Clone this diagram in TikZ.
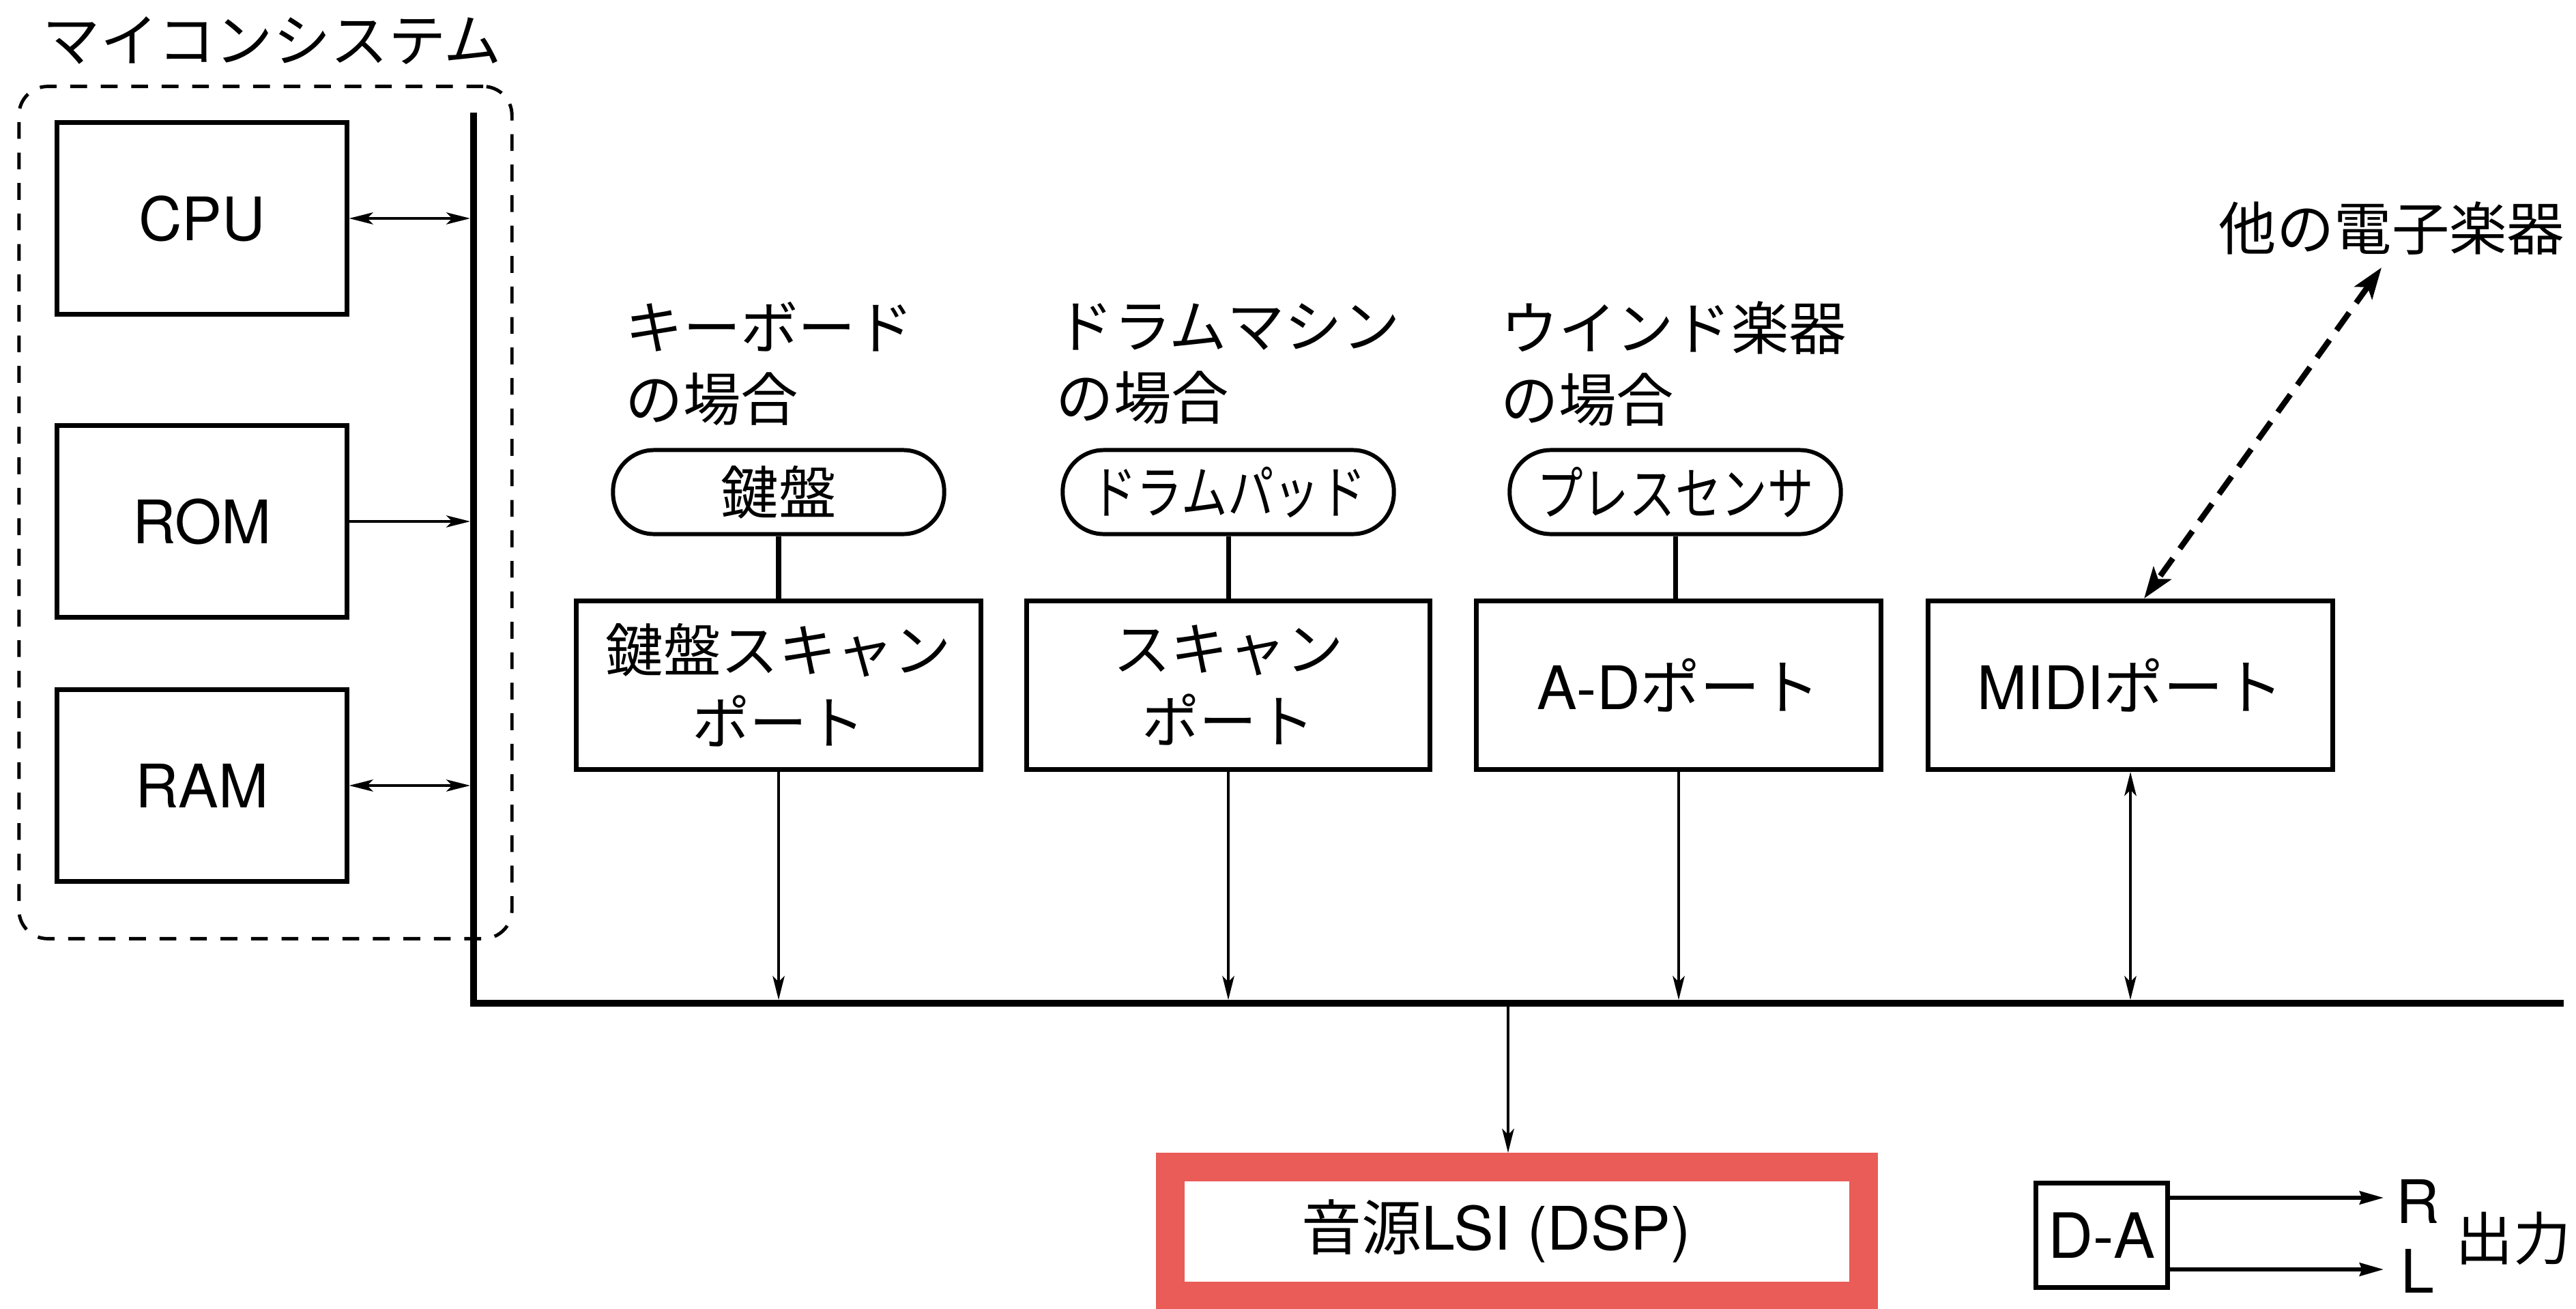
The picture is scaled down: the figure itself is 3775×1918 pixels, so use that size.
\documentclass[tikz,border=0pt]{standalone}
\usepackage{fontspec}
\setmainfont{TeX Gyre Heros}
\newfontfamily\jp{Noto Sans CJK JP}
\newfontfamily\jpn[FakeStretch=0.8]{Noto Sans CJK JP}
\usetikzlibrary{arrows.meta}
\definecolor{lsired}{RGB}{233,92,87}
\newcommand\jtext{\jp\fontsize{24}{30}\selectfont}
\newcommand\ltext{\fontsize{25}{30}\selectfont}
\begin{document}
\begin{tikzpicture}[x=0.01cm,y=-0.01cm,
  membox/.style={draw,line width=2pt,minimum width=4.24cm,minimum height=2.8cm,inner sep=0pt,font=\ltext},
  portbox/.style={draw,line width=2pt,minimum width=5.93cm,minimum height=2.47cm,inner sep=0pt,align=center,font=\jtext},
  pill/.style={draw,line width=1.7pt,rounded corners=0.6cm,minimum width=4.85cm,minimum height=1.23cm,inner sep=0pt,font=\jtext},
  lbl/.style={inner sep=0pt,align=left,anchor=west,font=\jtext},
  arr/.style={-{Stealth[length=10pt,width=5pt,inset=2.5pt]},line width=0.9pt},
  darr/.style={{Stealth[length=10pt,width=5pt,inset=2.5pt]}-{Stealth[length=10pt,width=5pt,inset=2.5pt]},line width=0.9pt},
  outarr/.style={-{Stealth[length=10pt,width=5.5pt,inset=1pt]},line width=1.5pt},
  dasharr/.style={{Stealth[length=13pt,width=9pt,inset=3pt]}-{Stealth[length=13pt,width=9pt,inset=3pt]},line width=2.4pt,dash pattern=on 9pt off 5pt},
  bus/.style={line width=3pt},
  grp/.style={draw,line width=1.4pt,dash pattern=on 7pt off 5.7pt,rounded corners=0.42cm,minimum width=7.22cm,minimum height=12.48cm,inner sep=0pt}]
\fill[white] (0,0) rectangle (3775,1918);
\useasboundingbox (0,0) rectangle (3775,1918);

% microcomputer system
\node[grp] (sys) at (389,751) {};
\node[inner sep=0pt,font=\jtext] (systitle) at (399,59) {マイコンシステム};
\node[membox] (cpu) at (296,320) {CPU};
\node[membox] (rom) at (296,764) {ROM};
\node[membox] (ram) at (296,1151) {RAM};

% bus
\coordinate (vtop) at (694,165);
\coordinate (corner) at (694,1470);
\coordinate (hend) at (3757,1470);
\draw[bus] (vtop) -- (corner) -- (hend);
\coordinate (busN) at (0,1465);
\coordinate (busW) at (689,0);

\draw[darr] (cpu.east) -- (cpu.east -| busW);
\draw[arr] (rom.east) -- (rom.east -| busW);
\draw[darr] (ram.east) -- (ram.east -| busW);

% labels
\node[lbl] (kblbl) at (916,533) {キーボード\\の場合};
\node[lbl] (drlbl) at (1547,533) {ドラムマシン\\の場合};
\node[lbl] (wdlbl) at (2199,533) {ウインド楽器\\の場合};

% pills
\node[pill] (kbd) at (1141,721) {鍵盤};
\node[pill,font=\jpn\fontsize{24}{30}\selectfont] (pad) at (1800,721) {ドラムパッド};
\node[pill,font=\jpn\fontsize{24}{30}\selectfont] (brs) at (2455,721) {プレスセンサ};

% ports
\node[portbox] (kbport) at (1141,1004) {鍵盤スキャン\\ポート};
\node[portbox,minimum width=5.9cm] (drport) at (1800,1004) {スキャン\\ポート};
\node[portbox,font=\ltext] (adport) at (2460,1004) {A-D{\jp ポート}};
\node[portbox,font=\ltext] (midi) at (3122,1004) {MIDI{\jp ポート}};

\draw[line width=2pt] (kbd.south) -- (kbd.south |- kbport.north);
\draw[line width=2pt] (pad.south) -- (pad.south |- drport.north);
\draw[line width=2pt] (brs.south) -- (brs.south |- adport.north);

\draw[arr] (kbport.south) -- (kbport.south |- busN);
\draw[arr] (drport.south) -- (drport.south |- busN);
\draw[arr] (adport.south) -- (adport.south |- busN);
\draw[darr] (midi.south) -- (midi.south |- busN);

% other instruments
\node[inner sep=0pt,font=\jtext] (other) at (3505,335) {他の電子楽器};
\coordinate (oth) at (3490,392);
\draw[dasharr] (oth) -- ([xshift=0.2cm]midi.north);

% sound LSI
\node[draw=lsired,line width=0.42cm,minimum width=10.155cm,minimum height=1.885cm,inner sep=0pt,font=\ltext] (lsi) at (2222.75,1804.25) {\hspace*{-0.6cm}{\jp 音源}LSI (DSP)};
\coordinate (tap) at (2210,1475);
\draw[arr] (tap) -- (tap |- lsi.north);

% D-A
\node[draw,line width=2pt,minimum width=1.93cm,minimum height=1.53cm,inner sep=0pt,font=\fontsize{26}{30}\selectfont] (da) at (3080,1810) {D-A};
\coordinate (rEnd) at (3493,1755);
\coordinate (lEnd) at (3493,1860);
\draw[outarr] (da.east |- rEnd) -- (rEnd);
\draw[outarr] (da.east |- lEnd) -- (lEnd);
\node[inner sep=0pt,font=\ltext] (rlbl) at (3543,1760) {R};
\node[inner sep=0pt,font=\ltext] (llbl) at (3543,1862) {L};
\node[inner sep=0pt,font=\jtext] (outlbl) at (3683,1815) {出力};
\end{tikzpicture}
\end{document}
